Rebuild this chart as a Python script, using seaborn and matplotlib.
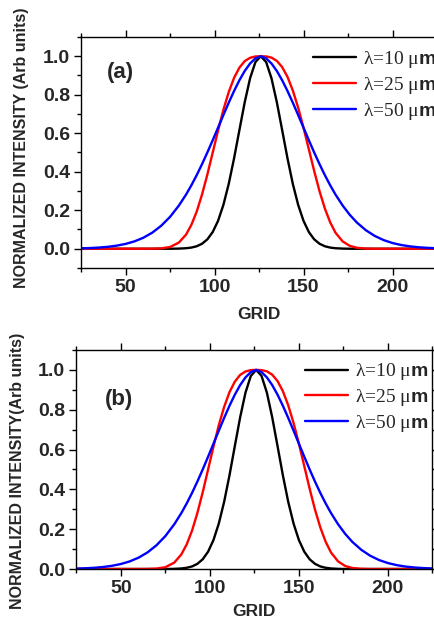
import matplotlib
matplotlib.use("Agg")
import matplotlib.pyplot as plt
from matplotlib.ticker import MultipleLocator, FixedLocator
import seaborn as sns
import pandas as pd

# ---- data ----
grid = [25, 30, 35, 40, 45, 50, 55, 60, 65, 70, 75, 80,
        84, 87, 90, 93, 96, 99, 102, 105, 108, 111, 114, 117, 120, 123, 126,
        129, 132, 135, 138, 141, 144, 147, 150, 153, 156, 159, 162, 165, 168,
        172, 176, 180, 185, 190, 195, 200, 205, 210, 215, 220, 225]

int_10 = [0, 0, 0, 0, 0, 0, 0, 0, 0, 0, 0, 0.0008,
          0.0027, 0.0061, 0.0129, 0.026, 0.049, 0.087, 0.145, 0.228, 0.337, 0.470, 0.617, 0.762, 0.886, 0.970, 1.0,
          0.970, 0.886, 0.762, 0.617, 0.470, 0.337, 0.228, 0.145, 0.087, 0.049, 0.026, 0.0129, 0.0061, 0.0027,
          0.0008, 0, 0, 0, 0, 0, 0, 0, 0, 0, 0, 0]

int_25 = [0, 0, 0, 0, 0, 0, 0, 0, 0.0003, 0.002, 0.009, 0.032,
          0.0735, 0.124, 0.193, 0.282, 0.386, 0.500, 0.614, 0.722, 0.814, 0.888, 0.941, 0.975, 0.992, 0.999, 1.0,
          0.999, 0.993, 0.976, 0.944, 0.893, 0.822, 0.733, 0.629, 0.517, 0.404, 0.299, 0.209, 0.137, 0.083,
          0.038, 0.015, 0.005, 0.001, 0, 0, 0, 0, 0, 0, 0, 0]

int_50 = [0.0021, 0.0036, 0.0061, 0.0100, 0.0160, 0.0250, 0.0382, 0.0571, 0.0834, 0.1190, 0.1654, 0.2245,
          0.2812, 0.3296, 0.3824, 0.4396, 0.5004, 0.5640, 0.6292, 0.6946, 0.7588, 0.8197, 0.8755, 0.9238, 0.9625, 0.9891, 1.0,
          0.9891, 0.9625, 0.9238, 0.8755, 0.8197, 0.7588, 0.6946, 0.6292, 0.5640, 0.5004, 0.4396, 0.3824, 0.3296, 0.2812,
          0.2245, 0.1762, 0.1361, 0.0965, 0.0667, 0.0450, 0.0297, 0.0192, 0.0121, 0.0074, 0.0045, 0.0026]

series_names = ['λ=10 μ$\\mathbf{m}$', 'λ=25 μ$\\mathbf{m}$', 'λ=50 μ$\\mathbf{m}$']
series_colors = ['#000000', '#ff0000', '#0000ff']
panel_tags = ['(a)', '(b)']
ylabels = ['NORMALIZED INTENSITY (Arb units)', 'NORMALIZED INTENSITY(Arb units)']
xticks = [50, 100, 150, 200]
yticks = [0.0, 0.2, 0.4, 0.6, 0.8, 1.0]

rows = []
for name, vals in zip(series_names, [int_10, int_25, int_50]):
    for g, v in zip(grid, vals):
        rows.append({'GRID': g, 'I': v, 'series': name})
df = pd.DataFrame(rows)

sns.set_style('ticks')
plt.rcParams['font.family'] = ['Liberation Sans', 'DejaVu Sans']
plt.rcParams['mathtext.fontset'] = 'custom'
plt.rcParams['mathtext.rm'] = 'Liberation Serif'
plt.rcParams['mathtext.bf'] = 'Liberation Sans:bold'
plt.rcParams['mathtext.it'] = 'Liberation Serif:italic'

fig = plt.figure(figsize=(4.35, 6.27), dpi=100)
W, H = 435.0, 627.0
boxes = [(81, 37, 437, 268), (76.3, 350, 432.5, 569)]
ylims = [(-0.1, 1.1), (0.0, 1.1)]
tagpos = [(0.073, 0.848), (0.081, 0.776)]
legpos = [(0.652, 0.947), (0.643, 0.948)]
ylabpos = [(-0.145, 0.52), (-0.144, 0.45)]
xlabpad = [8, 5]

palette = dict(zip(series_names, series_colors))
for i in range(2):
    l, t, r, b = boxes[i]
    ax = fig.add_axes([l / W, 1 - b / H, (r - l) / W, (b - t) / H])
    sns.lineplot(data=df, x='GRID', y='I', hue='series', hue_order=series_names,
                 palette=palette, linewidth=1.7, ax=ax, legend=True, sort=False)
    ax.set_xlim(25, 225)
    ax.set_ylim(*ylims[i])
    ax.xaxis.set_major_locator(FixedLocator(xticks))
    ax.xaxis.set_minor_locator(MultipleLocator(25))
    ax.yaxis.set_major_locator(FixedLocator(yticks))
    ax.yaxis.set_minor_locator(MultipleLocator(0.1))
    ax.set_xticklabels([str(v) for v in xticks], fontsize=14, fontweight='bold')
    ax.set_yticklabels(['%.1f' % v for v in yticks], fontsize=14, fontweight='bold')
    ax.tick_params(which='both', direction='out', top=True, right=True, width=1.0, color='black')
    ax.tick_params(which='major', length=5, pad=3)
    ax.tick_params(which='minor', length=3)
    for s in ax.spines.values():
        s.set_linewidth(1.0)
        s.set_color('black')
    ax.set_xlabel('GRID', fontsize=12.5, fontweight='bold', labelpad=xlabpad[i])
    ax.set_ylabel(ylabels[i], fontsize=11.5, fontweight='bold')
    ax.yaxis.set_label_coords(*ylabpos[i])
    ax.text(tagpos[i][0], tagpos[i][1], panel_tags[i], transform=ax.transAxes,
            fontsize=16, fontweight='bold', ha='left', va='center')
    handles, labels = ax.get_legend_handles_labels()
    leg = ax.legend(handles, labels, loc='upper left', bbox_to_anchor=legpos[i], frameon=False,
                    fontsize=14, handlelength=2.2, handletextpad=0.35, labelspacing=0.25,
                    borderpad=0, borderaxespad=0)
    for txt in leg.get_texts():
        txt.set_fontfamily('Liberation Serif')
        txt.set_fontweight('normal')

fig.savefig('out.png', dpi=100)
